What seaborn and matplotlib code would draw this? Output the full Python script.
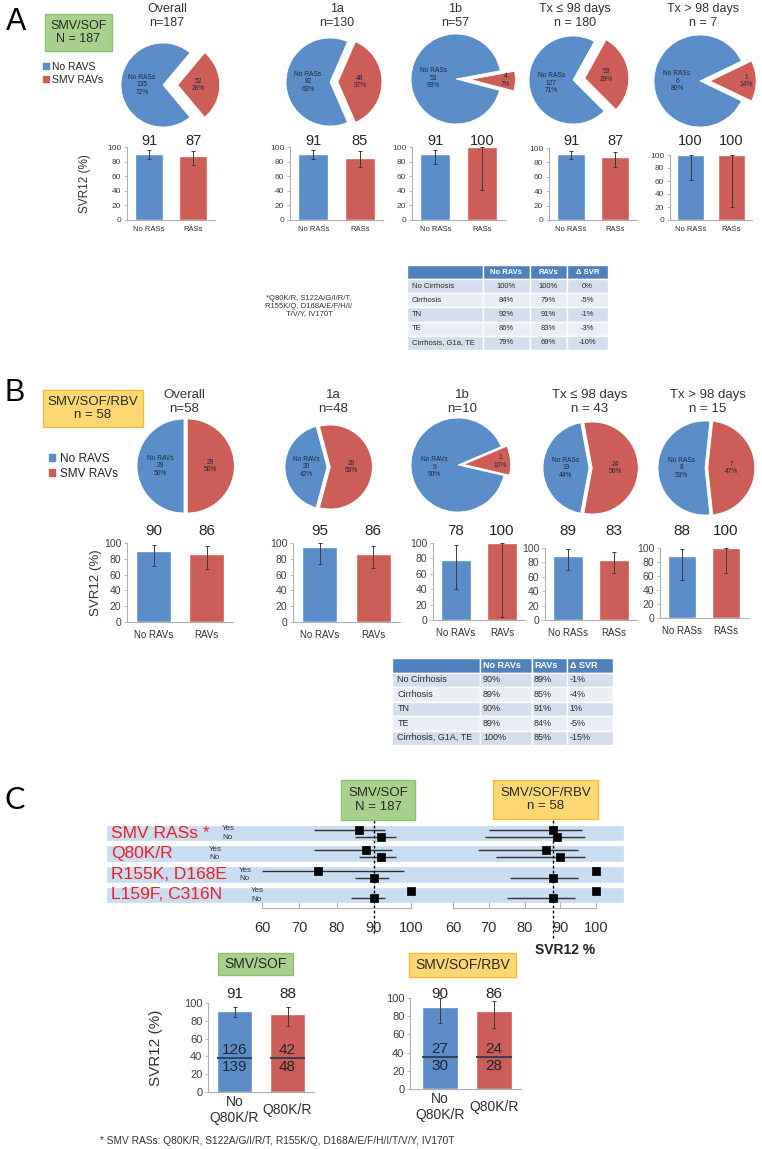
import matplotlib.pyplot as plt
import numpy as np
import pandas as pd
import seaborn as sns
from matplotlib.patches import Patch, Rectangle
from matplotlib.transforms import blended_transform_factory

# ──── DATA ───────────────────────────────────────────────────────────────────

# panel A: SMV/SOF
A_TITLES = ["Overall\nn=187", "1a\nn=130", "1b\nn=57", "Tx ≤ 98 days\nn = 180", "Tx > 98 days\nn = 7"]
A_NO = [135, 82, 53, 127, 6]
A_YES = [52, 48, 4, 53, 1]
A_NO_PCT = ["72%", "63%", "93%", "71%", "86%"]
A_YES_PCT = ["28%", "37%", "7%", "29%", "14%"]
A_NO_NAME = ["No RASs"] * 5
A_SVR_NO = [91, 91, 91, 91, 100]
A_SVR_YES = [87, 85, 100, 87, 100]
A_LO_NO = [84, 83, 77, 85, 62]
A_HI_NO = [96, 96, 96, 96, 100]
A_LO_YES = [75, 72, 41, 74, 20]
A_HI_YES = [95, 94, 100, 94, 100]
A_XT = [["No RASs", "RASs"]] * 5

# panel B: SMV/SOF/RBV
B_TITLES = ["Overall\nn=58", "1a\nn=48", "1b\nn=10", "Tx ≤ 98 days\nn = 43", "Tx > 98 days\nn = 15"]
B_NO = [29, 20, 9, 19, 8]
B_YES = [29, 28, 1, 24, 7]
B_NO_PCT = ["50%", "42%", "90%", "44%", "53%"]
B_YES_PCT = ["50%", "58%", "10%", "56%", "47%"]
B_NO_NAME = ["No RAVs", "No RAVs", "No RAVs", "No RASs", "No RASs"]
B_SVR_NO = [90, 95, 78, 89, 88]
B_SVR_YES = [86, 86, 100, 83, 100]
B_LO_NO = [71, 74, 40, 69, 54]
B_HI_NO = [98, 100, 97, 98, 98]
B_LO_YES = [67, 68, 4, 65, 64]
B_HI_YES = [96, 96, 100, 94, 100]
B_XT = [["No RAVs", "RAVs"]] * 3 + [["No RASs", "RASs"]] * 2

# subgroup tables
TABLE_HEAD = ["", "No RAVs", "RAVs", "Δ SVR"]
TA_ROWS = ["No Cirrhosis", "Cirrhosis", "TN", "TE", "Cirrhosis, G1a, TE"]
TA_NO = ["100%", "84%", "92%", "86%", "79%"]
TA_YES = ["100%", "79%", "91%", "83%", "69%"]
TA_DELTA = ["0%", "-5%", "-1%", "-3%", "-10%"]
TB_ROWS = ["No Cirrhosis", "Cirrhosis", "TN", "TE", "Cirrhosis, G1A, TE"]
TB_NO = ["90%", "89%", "90%", "89%", "100%"]
TB_YES = ["89%", "85%", "91%", "84%", "85%"]
TB_DELTA = ["-1%", "-4%", "1%", "-5%", "-15%"]

# panel C: forest plot (SVR12 %, point and 95% CI; nan = no interval)
F_ROWS = ["SMV RASs *", "Q80K/R", "R155K, D168E", "L159F, C316N"]
SOF_YES = [86, 88, 75, 100]
SOF_YES_LO = [74, 74, 60, np.nan]
SOF_YES_HI = [93, 95, 98, np.nan]
SOF_NO = [92, 92, 90, 90]
SOF_NO_LO = [85, 86, 85, 84]
SOF_NO_HI = [96, 96, 94, 93]
RBV_YES = [88, 86, 100, 100]
RBV_YES_LO = [70, 67, np.nan, np.nan]
RBV_YES_HI = [96, 95, np.nan, np.nan]
RBV_NO = [89, 90, 88, 88]
RBV_NO_LO = [69, 72, 76, 75]
RBV_NO_HI = [97, 97, 95, 94]
SOF_REF = 90
RBV_REF = 88

# panel C: Q80K/R bars
Q_CATS = ["No\nQ80K/R", "Q80K/R"]
Q_SOF = [91, 88]
Q_SOF_LO = [84, 74]
Q_SOF_HI = [96, 96]
Q_SOF_NUM = [126, 42]
Q_SOF_DEN = [139, 48]
Q_RBV = [90, 86]
Q_RBV_LO = [72, 67]
Q_RBV_HI = [100, 97]
Q_RBV_NUM = [27, 24]
Q_RBV_DEN = [30, 28]

FOOT_A = "*Q80K/R, S122A/G/I/R/T,\nR155K/Q, D168A/E/F/H/I/\nT/V/Y, IV170T"
FOOT_C = "* SMV RASs: Q80K/R, S122A/G/I/R/T, R155K/Q, D168A/E/F/H/I/T/V/Y, IV170T"

# ──── STYLE ──────────────────────────────────────────────────────────────────

BLUE = "#5b8dc8"
RED = "#cd5d57"
GREEN_FILL, GREEN_EDGE = "#a9d18e", "#8fc06f"
ORANGE_FILL, ORANGE_EDGE = "#ffd873", "#f3bd3c"
BAND = "#c9dcf1"
GRID_GREY = "#b0b0b0"
TEXT = "#262626"

sns.set_theme(style="white")
plt.rcParams["font.family"] = ["Liberation Sans", "DejaVu Sans"]

W, H = 762, 1149
fig = plt.figure(figsize=(W / 100, H / 100), dpi=100)


def px_box(x0, y0, x1, y1):
    # pixel box (origin top-left) -> figure fraction rect
    return [x0 / W, 1 - y1 / H, (x1 - x0) / W, (y1 - y0) / H]


def fig_text(x, y, s, **kw):
    return fig.text(x / W, 1 - y / H, s, **kw)


def label_box(x0, y0, x1, y1, text, fill, edge, size):
    fig.add_artist(Rectangle((x0 / W, 1 - y1 / H), (x1 - x0) / W, (y1 - y0) / H,
                             transform=fig.transFigure, facecolor=fill, edgecolor=edge, linewidth=1))
    fig_text((x0 + x1) / 2, (y0 + y1) / 2, text, ha="center", va="center", fontsize=size,
             color=TEXT, linespacing=1.15)


def draw_pie(cx, cy, r, no, yes, no_txt, yes_txt, explode, red_angle, fs=4.8):
    ax = fig.add_axes(px_box(cx - 75, cy - 75, cx + 75, cy + 75))
    frac_no = no / (no + yes)
    start = red_angle - 360 * frac_no - 180 * (1 - frac_no)
    # explode offset is in data units here (axes limits are in pixels)
    wedges, _ = ax.pie([no, yes], colors=[BLUE, RED], startangle=start, radius=r,
                       explode=[0, explode * r], wedgeprops=dict(edgecolor="white", linewidth=0.6))
    ax.set_xlim(-75, 75)
    ax.set_ylim(-75, 75)
    ax.set_aspect("equal")
    ax.axis("off")
    for w, txt, frac in zip(wedges, [no_txt, yes_txt], [frac_no, 1 - frac_no]):
        ang = np.deg2rad((w.theta1 + w.theta2) / 2)
        k = 0.5 if frac > 0.16 else 0.78
        x0, y0 = w.center
        ax.text(x0 + k * r * np.cos(ang), y0 + k * r * np.sin(ang), txt, ha="center", va="center",
                fontsize=fs, color="#1c2a3a", linespacing=1.15)


def style_bar_axes(ax, tick_fs, xt_fs, xt_pad):
    ax.set_ylim(0, 100)
    ax.set_yticks(range(0, 101, 20))
    ax.set_xlabel("")
    ax.set_ylabel("")
    for side in ["top", "right"]:
        ax.spines[side].set_visible(False)
    for side in ["left", "bottom"]:
        ax.spines[side].set_color(GRID_GREY)
        ax.spines[side].set_linewidth(0.8)
    ax.tick_params(axis="y", length=2.5, width=0.6, color=GRID_GREY, labelsize=tick_fs, pad=1.5,
                   labelcolor="#404040", left=True)
    ax.tick_params(axis="x", length=0, labelsize=xt_fs, pad=xt_pad, labelcolor="#303030")


def draw_bars(rect, cats, vals, lo, hi, label_y, tick_fs, xt_fs, val_fs, xlim=(-0.5, 1.5),
              width=0.65, xt_pad=4):
    ax = fig.add_axes(px_box(*rect))
    df = pd.DataFrame({"group": cats, "svr": vals})
    sns.barplot(data=df, x="group", y="svr", hue="group", palette=[BLUE, RED], legend=False,
                width=width, saturation=1, errorbar=None, ax=ax)
    v = np.array(vals, dtype=float)
    pos = np.arange(len(v))
    ax.errorbar(pos, v, yerr=[v - np.array(lo), np.array(hi) - v], fmt="none", ecolor="#3a3a3a",
                elinewidth=0.7, capsize=1.5, capthick=0.7)
    ax.set_xlim(*xlim)
    style_bar_axes(ax, tick_fs, xt_fs, xt_pad)
    tr = blended_transform_factory(ax.transData, fig.transFigure)
    for i, val in enumerate(vals):
        ax.text(i, 1 - label_y / H, str(val), transform=tr, ha="center", va="center",
                fontsize=val_fs, color=TEXT)
    return ax


def draw_table(rect, rows, c1, c2, c3, col_px, fs, val_loc):
    ax = fig.add_axes(px_box(*rect))
    ax.axis("off")
    cells = [[r, a, b, c] for r, a, b, c in zip(rows, c1, c2, c3)]
    widths = np.array(col_px) / sum(col_px)
    tbl = ax.table(cellText=cells, colLabels=TABLE_HEAD, colWidths=list(widths), bbox=[0, 0, 1, 1],
                   cellLoc="center")
    tbl.auto_set_font_size(False)
    tbl.set_fontsize(fs)
    for (ri, ci), cell in tbl.get_celld().items():
        cell.set_edgecolor("white")
        cell.set_linewidth(1.0)
        cell.PAD = 0.06
        txt = cell.get_text()
        if ri == 0:
            cell.set_facecolor("#4f81bd")
            txt.set_color("white")
            txt.set_fontweight("bold")
        else:
            cell.set_facecolor("#d5deec" if ri % 2 == 1 else "#eaeff6")
            txt.set_color("#2a2a2a")
        if ci == 0:
            txt.set_ha("left")
        elif ri > 0:
            txt.set_ha(val_loc)
        else:
            txt.set_ha("center" if val_loc == "center" else "left")


# ──── PANEL A ────────────────────────────────────────────────────────────────

fig_text(16, 22, "A", fontsize=22, ha="center", va="center", color="black")
label_box(45, 14, 112, 51, "SMV/SOF\nN = 187", GREEN_FILL, GREEN_EDGE, 9)
fig.legend(handles=[Patch(color=BLUE, label="No RAVS"), Patch(color=RED, label="SMV RAVs")],
           loc="upper left", bbox_to_anchor=(43 / W, 1 - 62 / H), frameon=False, fontsize=7.5,
           handlelength=0.55, handleheight=0.55, handletextpad=0.35, labelspacing=0.25,
           borderaxespad=0, borderpad=0)

a_title_x = [167, 337, 455, 575, 703]
a_centers = [(163, 85), (330, 82), (456, 79), (573, 80), (700, 81)]
a_radius = [42, 44, 45, 44, 46]
a_explode = [0.35, 0.18, 0.32, 0.27, 0.22]
a_red_angle = [0, 0, -2, 8, 0]
a_bar_rects = [(127, 147, 215, 220), (290, 147, 383, 220), (412, 147, 505, 220),
               (549, 148, 637, 220), (670, 155, 752, 220)]

for i in range(5):
    fig_text(a_title_x[i], 16, A_TITLES[i], ha="center", va="center", fontsize=9, color="#333333",
             linespacing=1.2)
    cx, cy = a_centers[i]
    draw_pie(cx, cy, a_radius[i], A_NO[i], A_YES[i], f"{A_NO_NAME[i]}\n{A_NO[i]}\n{A_NO_PCT[i]}",
             f"{A_YES[i]}\n{A_YES_PCT[i]}", a_explode[i], a_red_angle[i])
    ax = draw_bars(a_bar_rects[i], A_XT[i], [A_SVR_NO[i], A_SVR_YES[i]], [A_LO_NO[i], A_LO_YES[i]],
                   [A_HI_NO[i], A_HI_YES[i]], 141, tick_fs=6, xt_fs=5.5, val_fs=10.5, xt_pad=4)
    if i == 0:
        ax.set_ylabel("SVR12 (%)", fontsize=8.5, color="#333333")
        ax.yaxis.set_label_coords(-0.41, 0.5)

fig_text(309, 306, FOOT_A, ha="center", va="center", fontsize=5.5, color="#333333", linespacing=1.15)
draw_table((407, 265, 608, 350), TA_ROWS, TA_NO, TA_YES, TA_DELTA, [76, 47, 37, 41], 5.5, "center")

# ──── PANEL B ────────────────────────────────────────────────────────────────

fig_text(15, 393, "B", fontsize=22, ha="center", va="center", color="black")
label_box(43, 390, 143, 427, "SMV/SOF/RBV\nn = 58", ORANGE_FILL, ORANGE_EDGE, 9.5)
fig.legend(handles=[Patch(color=BLUE, label="No RAVS"), Patch(color=RED, label="SMV RAVs")],
           loc="upper left", bbox_to_anchor=(49 / W, 1 - 453 / H), frameon=False, fontsize=8.5,
           handlelength=0.55, handleheight=0.55, handletextpad=0.35, labelspacing=0.25,
           borderaxespad=0, borderpad=0)

b_title_x = [184, 333, 462, 590, 708]
b_centers = [(184, 466), (327, 467), (458, 465), (589, 468), (705, 468)]
b_radius = [47, 42, 47, 46, 47]
b_explode = [0.07, 0.08, 0.12, 0.07, 0.06]
b_red_angle = [0, 0, 5, 0, 0]
b_bar_rects = [(127, 543, 233, 622), (293, 543, 400, 622), (433, 543, 525, 620),
               (545, 548, 637, 620), (660, 548, 748, 618)]

for i in range(5):
    fig_text(b_title_x[i], 402, B_TITLES[i], ha="center", va="center", fontsize=9.5, color="#333333",
             linespacing=1.2)
    cx, cy = b_centers[i]
    draw_pie(cx, cy, b_radius[i], B_NO[i], B_YES[i], f"{B_NO_NAME[i]}\n{B_NO[i]}\n{B_NO_PCT[i]}",
             f"{B_YES[i]}\n{B_YES_PCT[i]}", b_explode[i], b_red_angle[i])
    ax = draw_bars(b_bar_rects[i], B_XT[i], [B_SVR_NO[i], B_SVR_YES[i]], [B_LO_NO[i], B_LO_YES[i]],
                   [B_HI_NO[i], B_HI_YES[i]], 531, tick_fs=7.5, xt_fs=7, val_fs=11, xt_pad=6)
    if i == 0:
        ax.set_ylabel("SVR12 (%)", fontsize=9.5, color="#333333")
        ax.yaxis.set_label_coords(-0.24, 0.5)

draw_table((392, 658, 613, 745), TB_ROWS, TB_NO, TB_YES, TB_DELTA, [88, 52, 35, 46], 6.5, "left")

# ──── PANEL C ────────────────────────────────────────────────────────────────

fig_text(15, 800, "C", fontsize=22, ha="center", va="center", color="black", family=["Lato", "DejaVu Sans"])
label_box(341, 780, 415, 820, "SMV/SOF\nN = 187", GREEN_FILL, GREEN_EDGE, 9.5)
label_box(493, 780, 598, 819, "SMV/SOF/RBV\nn = 58", ORANGE_FILL, ORANGE_EDGE, 9.5)

# background bands with row labels
band_rect = (106, 822.7, 624, 905.3)
bax = fig.add_axes(px_box(*band_rect))
rows_idx = np.arange(len(F_ROWS))
bax.barh(rows_idx, width=1, height=0.8, left=0, color=BAND)
bax.set_xlim(0, 1)
bax.set_ylim(len(F_ROWS) - 0.5, -0.5)
bax.axis("off")
yn_x = [222, 209, 239, 251]
for i, name in enumerate(F_ROWS):
    bax.text(5 / 518, i, name, ha="left", va="center", fontsize=12.5, color="#ee2024")
    xf = (yn_x[i] - 106) / 518
    bax.text(xf, i - 0.2, "Yes", ha="left", va="center", fontsize=5.8, color="#333333")
    bax.text(xf, i + 0.2, "No", ha="left", va="center", fontsize=5.8, color="#333333")


def draw_forest(rect, yes, yes_lo, yes_hi, no, no_lo, no_hi, ref, ref_span):
    ax = fig.add_axes(px_box(*rect))
    ax.patch.set_alpha(0)
    y_yes = rows_idx - 0.17
    y_no = rows_idx + 0.17
    ax.hlines(y_yes, yes_lo, yes_hi, color="#333333", linewidth=1)
    ax.hlines(y_no, no_lo, no_hi, color="#333333", linewidth=1)
    pts = pd.DataFrame({"svr": list(yes) + list(no), "y": list(y_yes) + list(y_no)})
    sns.scatterplot(data=pts, x="svr", y="y", marker="s", s=28, color="black", edgecolor="black",
                    linewidth=0.5, ax=ax, clip_on=False, zorder=3)
    ax.axvline(ref, ymin=ref_span[0], ymax=ref_span[1], color="black", linewidth=1,
               linestyle=(0, (2, 1.6)), clip_on=False)
    ax.set_xlim(60, 100)
    ax.set_ylim(len(F_ROWS) - 0.5, -0.5)
    ax.set_xticks(range(60, 101, 10))
    ax.set_yticks([])
    ax.set_xlabel("")
    ax.set_ylabel("")
    for side in ["top", "right", "left"]:
        ax.spines[side].set_visible(False)
    ax.spines["bottom"].set_color(GRID_GREY)
    ax.spines["bottom"].set_linewidth(0.8)
    ax.spines["bottom"].set_position(("outward", 2))
    ax.tick_params(axis="x", direction="in", length=4, width=0.7, color=GRID_GREY, labelsize=10.5,
                   pad=9, labelcolor="#303030", bottom=True)
    return ax


draw_forest((262, 822.7, 411, 905.3), SOF_YES, SOF_YES_LO, SOF_YES_HI, SOF_NO, SOF_NO_LO, SOF_NO_HI,
            SOF_REF, (-0.335, 1.056))
draw_forest((453, 822.7, 596, 905.3), RBV_YES, RBV_YES_LO, RBV_YES_HI, RBV_NO, RBV_NO_LO, RBV_NO_HI,
            RBV_REF, (-0.395, 1.03))
fig_text(565, 950, "SVR12 %", ha="center", va="center", fontsize=10, fontweight="bold", color="#222222")

# Q80K/R bars
label_box(218, 953, 293, 975, "SMV/SOF", GREEN_FILL, GREEN_EDGE, 10)
label_box(409, 953, 516, 977, "SMV/SOF/RBV", ORANGE_FILL, ORANGE_EDGE, 10)


def draw_q_bars(rect, vals, lo, hi, num, den, frac_line, xlim):
    ax = draw_bars(rect, Q_CATS, vals, lo, hi, 994, tick_fs=8, xt_fs=10, val_fs=11, xlim=xlim,
                   width=0.66, xt_pad=13)
    for t in ax.get_xticklabels():
        t.set_va("center")
    for i in range(len(vals)):
        ax.hlines(frac_line, i - 0.33, i + 0.33, color="#2d3b4f", linewidth=1.3)
        ax.text(i, frac_line + 9, str(num[i]), ha="center", va="center", fontsize=11, color="#1e2530")
        ax.text(i, frac_line - 10, str(den[i]), ha="center", va="center", fontsize=11, color="#1e2530")
    return ax


ax = draw_q_bars((208, 1003, 314, 1092), Q_SOF, Q_SOF_LO, Q_SOF_HI, Q_SOF_NUM, Q_SOF_DEN, 38.5, (-0.5, 1.5))
ax.set_ylabel("SVR12 (%)", fontsize=11, color="#333333")
ax.yaxis.set_label_coords(-0.42, 0.5)
draw_q_bars((410, 998, 521, 1089), Q_RBV, Q_RBV_LO, Q_RBV_HI, Q_RBV_NUM, Q_RBV_DEN, 35, (-0.55, 1.5))

fig_text(100, 1141, FOOT_C, ha="left", va="center", fontsize=7.3, color="#333333")

fig.savefig("out.png", dpi=100)
